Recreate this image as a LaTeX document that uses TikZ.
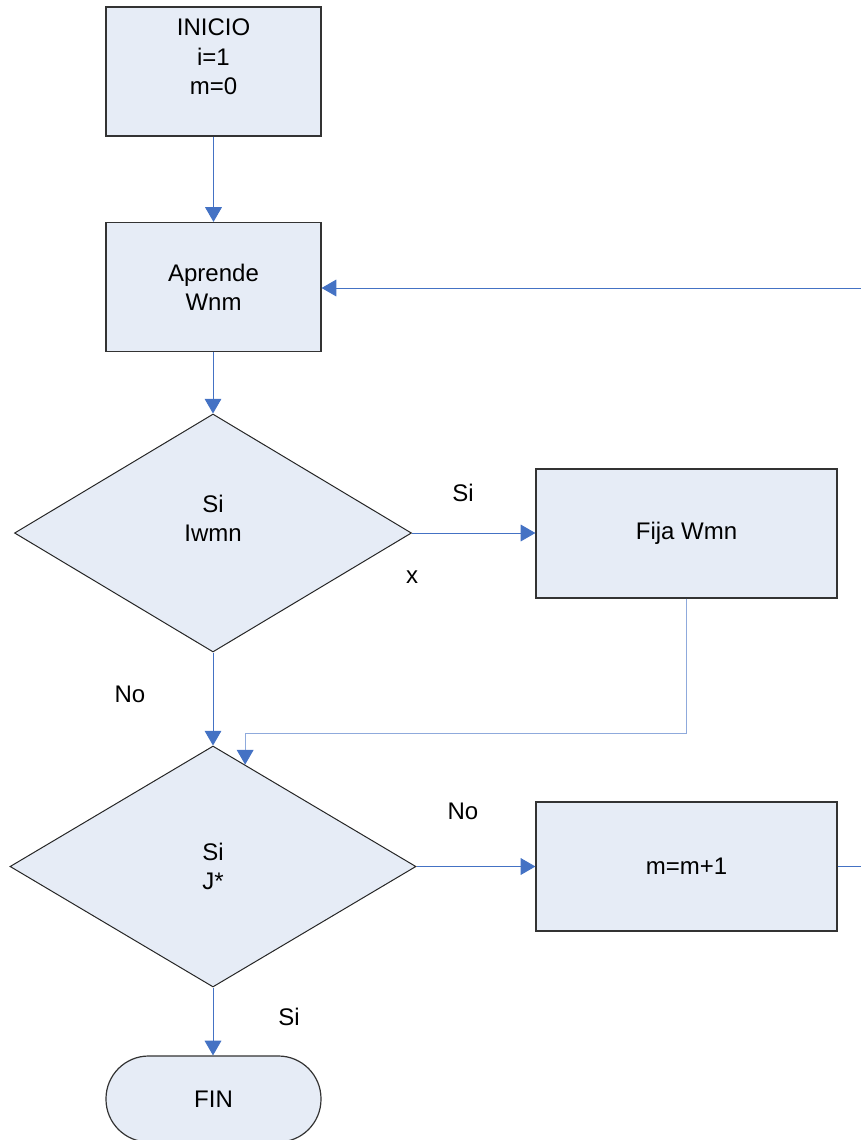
\documentclass[tikz,border=0pt]{standalone}
\usepackage{fontspec}
\setmainfont{Liberation Sans}
\usetikzlibrary{arrows.meta,shapes.geometric,calc}
\definecolor{boxfill}{HTML}{E6ECF6}
\definecolor{flowblue}{HTML}{4472C4}
\definecolor{flowlight}{HTML}{8FAADC}
\tikzset{
  txt/.style={font=\fontsize{18}{22}\selectfont,align=center,inner sep=0pt},
  box/.style={txt,draw=black!80,line width=0.9pt,fill=boxfill,
    minimum width=161.25pt,minimum height=96.75pt},
  widebox/.style={box,minimum width=225.75pt},
  test/.style={txt,diamond,draw=black!85,line width=0.75pt,fill=boxfill},
  endbox/.style={box,rounded corners=32pt,minimum height=64.5pt},
  flow/.style={draw=flowblue,line width=0.75pt,
    -{Triangle[length=11pt,width=12.5pt,color=flowblue]}},
  flowfaint/.style={flow,draw=flowlight},
  tag/.style={txt}
}
\begin{document}
\begin{tikzpicture}[x=0.75pt,y=-0.75pt]
  \useasboundingbox (0,0) rectangle (861,1140);
  % boxes
  \node[box] (inicio) at (213.5,71.5) {INICIO\\i=1\\m=0\\\mbox{}};
  \node[box] (aprende) at (213.5,287) {Aprende\\Wnm};
  \node[test,minimum width=297.75pt,minimum height=178.5pt] (fijo) at (213,533) {Si\\Iwmn\\\mbox{}};
  \node[widebox] (fija) at (686.5,533.5) {Fija Wmn};
  \node[test,minimum width=304.5pt,minimum height=180.75pt] (meta) at (213,866.5) {Si\\J*};
  \node[widebox] (suma) at (686.5,866.5) {m=m+1};
  \node[endbox] (fin) at (213.5,1099) {FIN};
  % free ends
  \coordinate (vuelta) at (861,288);
  \coordinate (salida) at (861,866.5);
  \coordinate (entra) at ($(meta.north)!0.158!(meta.east)$);
  % connectors
  \draw[flow] (inicio) -- (aprende);
  \draw[flow] (vuelta) -- (vuelta -| aprende.east);
  \draw[flow] (aprende.south -| fijo.north) -- (fijo.north);
  \draw[flow] (fijo.east) -- (fija.west |- fijo.east);
  \draw[flowfaint] (fija.south) -- ++(0,135) -| (entra);
  \draw[flow] (fijo.south) -- (meta.north);
  \draw[flow] (meta.east) -- (suma.west);
  \draw[draw=flowblue,line width=0.75pt] (suma.east) -- (salida);
  \draw[flow] (meta.south) -- (meta.south |- fin.north);
  % labels
  \node[tag] (si1) at (463,493) {Si};
  \node[tag] (equis) at (412,577) {x};
  \node[tag] (no1) at (130,694) {No};
  \node[tag] (no2) at (463,811) {No};
  \node[tag] (si2) at (289,1017) {Si};
\end{tikzpicture}
\end{document}
